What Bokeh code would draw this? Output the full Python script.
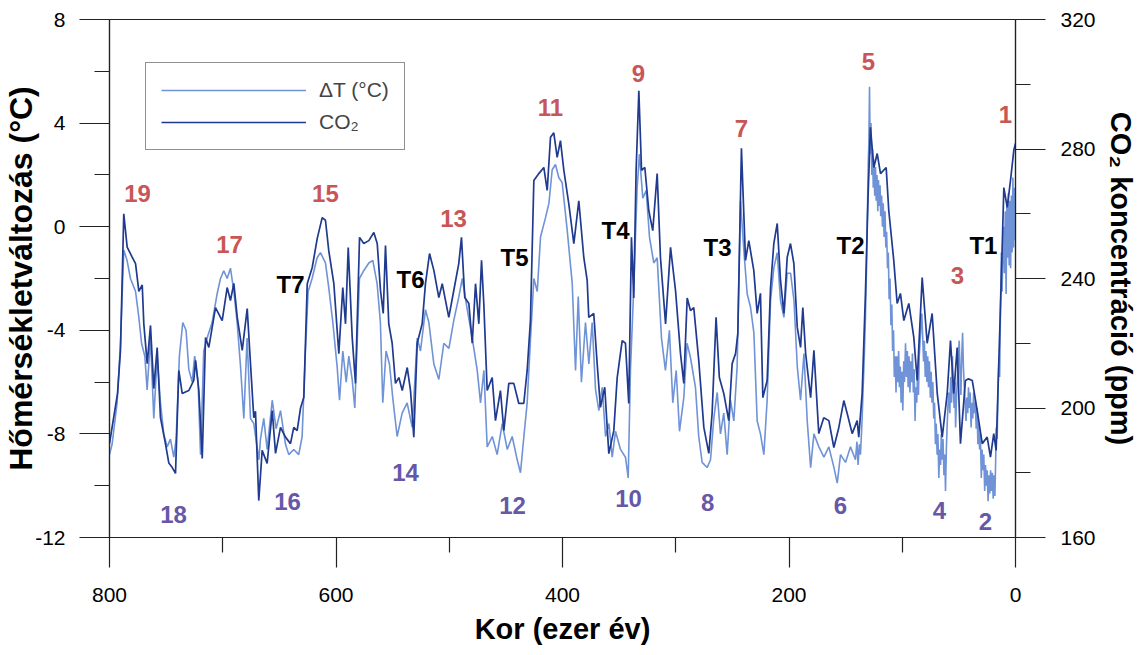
from bokeh.plotting import figure
from bokeh.models import Range1d, LinearAxis, FixedTicker, Legend, LegendItem, PrintfTickFormatter
from bokeh.embed import file_html
from bokeh.resources import INLINE
from bokeh.core.properties import value

# ---------------- data ----------------
# Temperature anomaly (deg C) vs age (kyr BP)
t_age = [800, 797.7, 793.3, 790.3, 787.4, 784.5, 781.5, 777, 774.1, 771.7, 768.8, 766.8, 763.8, 760.9,
         757.9, 755, 752.1, 749.1, 746.2, 743.2, 741.2, 738.3, 735.3, 732.4, 730, 727, 724.8, 721.8,
         719.6, 716.8, 713.8, 709.4, 705, 702, 699.1, 696.1, 693.2, 690.2, 687.3, 684.3, 681.4, 678.5,
         675.5, 672.6, 668.1, 666.7, 663.8, 660.8, 656.3, 652.9, 649, 644.6, 641.7, 637.3, 632.9, 629.9,
         627, 624.6, 621.1, 616.7, 613.7, 609.3, 606.4, 602.8, 599, 596.9, 594, 591, 588.7, 585.7, 583.4,
         579.3, 575.5, 571, 567.5, 563.7, 560.8, 558.7, 555.8, 552.8, 549.9, 546, 541.6, 537.2, 532.7,
         528.3, 525.4, 521, 518, 513.6, 509.2, 504.8, 500.3, 495.9, 491.5, 488.5, 484.1, 479.7, 475.3,
         472.4, 469.4, 466.5, 462, 457.7, 453.2, 448.8, 444.4, 440, 437.1, 434.1, 431.2, 428.2, 425.3,
         422.3, 419.4, 415, 412, 409.1, 406.2, 403.3, 400.3, 395.8, 391.4, 388.5, 386.1, 383.3, 379.7,
         376.7, 373.8, 370.8, 367.9, 364.9, 362, 359, 356.1, 353.2, 348.8, 344.4, 342, 340, 337.1, 334.1,
         332.1, 329.1, 326.1, 323.2, 319.4, 316.4, 312.6, 309.1, 305.6, 302.6, 299.6, 296.7, 292.9, 290,
         287, 282.6, 279.7, 276.7, 272.3, 269.3, 266.4, 263.4, 260.5, 257.6, 254.6, 251.7, 248.7, 245.8,
         242.8, 239.9, 236.9, 234, 231, 228.1, 225.2, 222.2, 219.3, 216.3, 213.4, 210.4, 207.5, 204.5,
         201.6, 198.6, 195.6, 192.7, 189.8, 186.8, 183.9, 180.9, 178, 173.6, 169.2, 164.8, 160.3, 157.4,
         154.5, 150.1, 145.7,
         141.3, 140, 139, 137.9, 136.9, 135.5, 134.5, 133.5, 132.5, 131.5, 131, 130, 129.5, 128.9, 128.3,
         127.6, 126.9, 126.2, 125.6, 125, 124.3, 123.6, 123, 122.3, 121.6, 121, 120.3, 119.6, 119, 118.2,
         117.5, 116.8, 116, 115.2, 114.5, 113.8, 113, 112.3, 111.6, 110.8, 110, 109.2, 108.5, 107.7, 107,
         106.2, 105.5, 104.8, 104, 103.2, 102.5, 101.7, 101, 100.2, 99.5, 98.7, 98, 97.1, 96.3, 95.5, 94.8,
         94, 93.2, 92.5, 91.7, 91, 90.2, 89.5, 88.7, 88, 87.2, 86.5, 85.7, 85, 84.2, 83.5, 82.7, 82, 81.2,
         80.5, 79.7, 79, 78.2, 77.5, 76.8, 76, 75.2, 74.5, 73.7, 73, 72.2, 71.5, 70.7, 70, 69.2, 68.5, 67.7,
         67, 66.2, 65.5, 64.7, 64, 63.2, 62.5, 61.8, 61, 60.3, 59.5, 58.8, 58, 57.2, 56.5, 55.7, 55, 54.2,
         53.5, 52.9, 52, 51.2, 50.5, 49.7, 49, 48.2, 47.5, 46.7, 46, 45.2, 44.5, 43.7, 43, 42.2, 41.5, 40.7,
         40, 39.2, 38.5, 37.7, 37, 36.2, 35.5, 34.7, 34, 33.2, 32.5, 31.7, 31, 30.2, 29.5, 28.7, 28, 27.2,
         26.5, 25.7, 25, 24.2, 23.5, 22.7, 22, 21.2, 20.5, 19.7, 19, 18.2, 17.5, 17, 16.2, 15.5, 14.7, 14,
         13.2, 12.5, 11.8, 11, 10.4, 9.8, 9, 8.3, 7.6, 7, 6.3, 5.6, 5, 4.3, 3.6, 3, 2.3, 1.6, 1, 0.4, 0]
t_val = [-8.8, -8.4, -6.8, -4.5, -0.9, -1.3, -2.0, -2.5, -3.5, -4.5, -5.0, -6.3, -4.3, -7.4,
         -5.0, -6.8, -8.0, -8.5, -8.2, -8.9, -8.2, -5.0, -3.7, -4.0, -5.5, -6.0, -5.0, -6.0,
         -8.8, -4.8, -4.3, -3.7, -2.6, -2.0, -1.7, -2.0, -1.6, -2.5, -3.7, -5.4, -7.4, -4.3,
         -7.4, -7.6, -9.0, -8.2, -7.4, -8.6, -6.7, -7.8, -7.1, -8.4, -8.8, -8.6, -8.8, -8.1,
         -4.8, -2.5, -2.0, -1.2, -1.0, -1.4, -2.35, -3.7, -5.4, -6.7, -4.8, -6.0, -5.0, -5.9, -7.0,
         -2.0, -1.7, -1.4, -1.3, -2.2, -3.7, -6.8, -4.8, -5.3, -6.6, -8.1, -7.2, -6.8, -7.75,
         -4.3, -4.8, -3.2, -3.7, -5.3, -5.9, -4.5, -4.7, -3.6, -2.7, -2.0, -3.2, -4.3, -5.55,
         -6.8, -5.55, -8.5, -8.1, -8.8, -7.6, -8.6, -8.1, -9.0, -9.5, -8.1, -6.8, -4.3, -2.0,
         -2.5, -0.4, 0.35, 0.9, 2.2, 2.4, 1.9, 1.7, -0.15, -2.2, -5.55, -2.7, -6.0, -3.7,
         -5.3, -3.7, -6.3, -7.1, -6.2, -8.1, -7.6, -8.9, -7.9, -8.6, -8.9, -9.7, -5.55, -2.35, 1.5,
         2.8, 1.1, 1.4, -0.4, -1.4, -1.2, -4.3, -5.55, -4.0, -6.8, -5.55, -7.9, -6.6, -4.5,
         -5.05, -6.2, -8.1, -9.1, -9.3, -9.0, -7.4, -6.4, -8.0, -7.2, -8.8, -6.7, -7.5, -5.4,
         1.0, -0.9, -2.6, -3.1, -4.1, -7.5, -8.0, -8.8, -6.7, -2.85, -1.6, -1.0, -2.85, -3.5,
         -1.8, -1.8, -2.85, -5.4, -6.7, -4.9, -7.5, -9.3, -8.0, -8.5, -8.9, -8.5, -9.3, -9.9,
         -8.8, -9.1, -8.5,
         -9.0, -8.3, -9.2, -8.4, -8.8, -7.5, -6.2, -5.0, -3.5, -1.5, 0.0, 2.5, 3.2, 5.4, 2.8,
         4.0, 2.0, 3.0, 1.5, 2.6, 1.2, 2.3, 1.0, 2.0, 0.6, 1.8, 0.8, 1.6, 0.4, 1.2,
         0.0, 0.9, -0.4, 0.6, -0.8, -0.2, -1.6, -1.0, -2.8, -2.0, -3.8, -3.0, -4.8, -4.0, -5.8,
         -5.0, -6.4, -5.0, -6.0, -4.8, -6.2, -5.4, -6.8, -5.6, -7.1, -5.2, -6.0, -4.5, -5.8, -4.8, -6.2,
         -5.0, -6.4, -5.2, -6.0, -4.9, -6.4, -5.5, -7.5, -6.2, -6.8, -5.6, -6.5, -5.0, -4.4, -3.8, -3.35, -4.2, -5.2,
         -4.4, -5.8, -4.8, -6.0, -5.0, -6.2, -5.2, -6.6, -5.6, -6.8, -6.0, -7.4, -6.8, -8.4, -7.6, -8.8, -8.0, -9.7,
         -8.6, -9.2, -8.0, -9.0, -8.2, -9.6, -8.8, -10.2, -8.5, -7.6, -6.8, -6.4, -7.2, -5.8, -6.8, -5.0, -6.2, -7.0,
         -6.0, -7.75, -6.5, -5.8, -5.0, -4.4, -5.6, -6.5, -5.0, -4.1, -5.4, -6.2, -6.8, -7.5, -6.6, -7.2, -6.2, -7.0,
         -6.4, -7.75, -6.8, -7.4, -6.4, -7.2, -6.8, -7.8, -7.0, -8.4, -7.6, -8.6, -8.0, -9.7, -8.6, -9.4, -8.8, -10.2,
         -9.2, -10.0, -9.4, -10.6, -9.6, -10.3, -9.4, -10.2, -9.5, -10.5, -9.6, -10.4, -9.0, -7.75, -8.2, -6.5, -5.2, -5.8,
         -3.0, -1.0, -2.5, -0.6, 0.0, -1.8, 0.6, -2.6, 0.8, -1.2, 1.3, -1.5, 1.0, -1.6, 1.2, -1.0, 1.9, -0.8, 1.5, -0.5, 0.2]

# CO2 concentration (ppm) vs age (kyr BP)
co2_age = [800, 792.9, 790.3, 787.4, 784.4, 780, 777, 774.1, 771.1, 769.7, 766.7, 763.8, 760.9, 757.9,
           755, 750.6, 747.6, 744.6, 741.7, 738.8, 735.8, 730, 725.6, 724, 721.1, 718.1, 715.2, 712.3,
           706.4, 700.5, 696.1, 693.2, 690.2, 687.2, 682.8, 678.4, 675.5, 672.6, 671.1, 668.2, 665.2,
           660.8, 656.3, 653.4, 649, 644.6, 640.2, 637.3, 634.3, 631.3, 628.4, 625.4, 621, 616.6, 612.2,
           609.3, 606.4, 601.9, 597.5, 594, 591.6, 589.2, 585.7, 582.8, 579.2, 575.5, 571, 566.6, 563.6,
           560.7, 558.3, 556.3, 553.4, 550.4, 547.5, 544.5, 541.5, 537.1, 534.2, 531.3, 528.3, 523.9,
           521, 517.4, 513.6, 509.2, 506.2, 500.4, 496, 491.6, 489.2, 486.3, 482.7, 479.7, 476.8, 473.9,
           471.5, 469.5, 466.5, 462.1, 459.2, 454.8, 451.8, 447.4, 443, 438.6, 434.2, 431.2, 428.3,
           425.3, 420.9, 416.5, 413.5, 410.6, 407.7, 404.7, 401.8, 398.8, 394.4, 390, 385.6, 381.2,
           378.2, 376.8, 372.4, 369.4, 366.5, 362.7, 359.1, 354.7, 351.7, 347.3, 344.4, 341.5, 339.1,
           337.1, 335, 332.6, 330.2, 327.3, 323.8, 320.3, 316.4, 313.5, 309, 304.6, 300.2, 295.8, 292.9,
           289.9, 287, 284.1, 279.7, 275.2, 270.8, 267.9, 264.4, 261.5, 257.6, 253.2, 250.2, 247.2,
           245.2, 242, 238.4, 235.5, 231.1, 228.1, 225.2, 223.1, 219.3, 216.3, 213.4, 210.4, 207.5,
           204.5, 201.6, 198.7, 195.7, 192.7, 189.8, 187.8, 185.3, 180.9, 178, 173.7, 169.3, 164.8,
           160.4, 156, 151.6, 148.6, 144.2, 139.8, 138.4, 135.4, 132.5, 130.1, 128.1, 125.1, 122.1,
           119.2, 114.2, 111.9, 107.5, 104.5, 101.6, 98.6, 94.2, 89.8, 86.8, 82.4, 78, 73.6, 69.1, 64.7,
           60.3, 57.4, 54.5, 51.5, 48.6, 44.2, 41.5, 38.2, 33.8, 29.4, 25, 22.1, 19.2, 17.1, 14.7, 12.4,
           10.3, 7.3, 4.4, 1.5, 0]
co2_val = [189, 204.5, 217.8, 260, 249.7, 246.6, 244.6, 236, 238, 226, 213.7, 225.5, 206, 218.7,
           197, 189, 183, 181.6, 179.8, 211.6, 204.5, 205.4, 208.5, 214.7, 205.4, 184.4, 221.8, 218.7,
           231, 227, 237.2, 233.2, 238.5, 228, 217.8, 230.7, 213.7, 197, 199, 171.4, 186.9,
           182.9, 199.2, 186, 194, 191, 189, 194, 193, 200, 203.3, 238.4, 243.4, 252.3, 258.8,
           258, 248.6, 238.4, 216.8, 237.2, 226, 249.6, 221.8, 207.6, 252.7, 250.8, 251.7, 254.2, 250.8,
           236.3, 229.2, 250.2, 226, 220, 207.6, 209.4, 205.4, 212.5, 205.4, 191, 220, 226,
           238.4, 247.7, 242.5, 234.1, 238.4, 228, 236.3, 244.6, 252.7, 234.1, 232.3, 220, 238.4, 226,
           245.6, 232.3, 205.4, 209.4, 196.1, 205.4, 193, 207.6, 207.6, 201.4, 201.4, 211.6, 227,
           270.3, 272.4, 274.3, 267.2, 283.6, 285, 277.4, 282.6, 273.4, 263, 250.8, 264, 246.5,
           239.4, 228, 229.2, 213.7, 200.2, 206.4, 185.9, 193, 209.4, 220.8, 220, 201.4, 252.7,
           234, 273.4, 298, 273.4, 274.3, 261, 254.8, 272.4, 246.5, 226, 249.6, 236.3, 216.8, 207.6,
           234, 230.1, 231, 214.7, 194, 186, 198.3, 228, 209.4, 204.5, 196.1, 213.7, 216.8,
           223, 280.2, 245.6, 251.7, 242.5, 229.2, 235.4, 203.2, 208.5, 237.2, 250.8, 257, 239.4,
           229.2, 246.5, 250.8, 244.6, 224.9, 218.7, 231, 216.8, 203.2, 217.8, 192.1, 197, 196.1,
           187.8, 194, 202.3, 198.3, 192.1, 196.1, 191, 204.5, 235.4, 266.3, 286.7, 274.3, 278.6,
           272.4, 274.3, 261, 245.6, 232.3, 235.4, 227, 232.3, 221.8, 208.5, 240.3, 220, 229.2, 204.5, 191,
           204.5, 220.8, 204.5, 218.7, 189, 208.5, 209, 208.5, 199.2, 189, 191, 184.8, 192.1, 186.9, 214.7, 241.5,
           268.1, 262, 270.3, 279.6, 281.7]

# Marine isotope stage labels and terminations
warm_labels = ["19", "17", "15", "13", "11", "9", "7", "5", "3", "1"]
warm_age = [775.3, 694, 609.3, 496.2, 410.6, 332.9, 242, 129.8, 51.2, 8.8]
warm_t = [1.28, -0.69, 1.28, 0.32, 4.6, 5.92, 3.79, 6.38, -1.88, 4.33]

cold_labels = ["18", "16", "14", "12", "10", "8", "6", "4", "2"]
cold_age = [743.5, 642.8, 538.6, 444.1, 341.7, 271.9, 154.5, 67.1, 26.5]
cold_t = [-11.11, -10.61, -9.49, -10.76, -10.49, -10.65, -10.76, -10.96, -11.38]

term_labels = ["T7", "T6", "T5", "T4", "T3", "T2", "T1"]
term_age = [640.2, 534.2, 442.4, 353.2, 263.1, 145.7, 28.3]
term_t = [-2.23, -2.04, -1.19, -0.15, -0.8, -0.73, -0.73]

x_ticks = [0, 200, 400, 600, 800]
x_minor = [100, 300, 500, 700]
t_ticks = [-12, -8, -4, 0, 4, 8]
t_minor = [-10, -6, -2, 2, 6]
c_ticks = [160, 200, 240, 280, 320]
c_minor = [180, 220, 260, 300]

# ---------------- styling ----------------
LIGHT = "#6f93d6"
DARK = "#1f3a8f"
RED = "#c95656"
PURPLE = "#6657a8"
FONT = "Liberation Sans"

p = figure(width=1143, height=655, output_backend="svg", toolbar_location=None,
           x_range=Range1d(800, 0), y_range=Range1d(-12, 8),
           min_border_left=109, min_border_right=128, min_border_top=19, min_border_bottom=118)
p.extra_y_ranges = {"co2": Range1d(160, 320)}
p.grid.visible = False
p.outline_line_color = "#222222"
p.outline_line_width = 1.2
p.background_fill_color = "white"
p.border_fill_color = "white"


def style_axis(ax, ticks, minor, title_size):
    ax.ticker = FixedTicker(ticks=ticks, minor_ticks=minor)
    ax.formatter = PrintfTickFormatter(format="%d")
    ax.major_tick_in = 0
    ax.major_tick_out = 30
    ax.minor_tick_in = 0
    ax.minor_tick_out = 15
    ax.major_tick_line_color = "#222222"
    ax.minor_tick_line_color = "#222222"
    ax.major_tick_line_width = 1.2
    ax.minor_tick_line_width = 1.2
    ax.axis_line_color = "#222222"
    ax.axis_line_width = 1.2
    ax.major_label_text_font = FONT
    ax.major_label_text_font_size = "21px"
    ax.major_label_text_color = "black"
    ax.axis_label_text_font = FONT
    ax.axis_label_text_font_size = title_size
    ax.axis_label_text_font_style = "bold"
    ax.axis_label_text_color = "black"


xa = p.xaxis[0]
style_axis(xa, x_ticks, x_minor, "29px")
xa.axis_label = "Kor (ezer év)"
xa.major_label_standoff = 20
xa.axis_label_standoff = 8

ya = p.yaxis[0]
style_axis(ya, t_ticks, t_minor, "32px")
ya.axis_label = "Hőmérsékletváltozás (°C)"
ya.major_label_standoff = 14
ya.axis_label_standoff = -7

ra = LinearAxis(y_range_name="co2")
style_axis(ra, c_ticks, c_minor, "29px")
ra.axis_label = "CO₂ koncentráció (ppm)"
ra.major_label_standoff = 15
ra.axis_label_standoff = 6
p.add_layout(ra, "right")

r1 = p.line(t_age, t_val, line_color=LIGHT, line_width=1.6)
r2 = p.line(co2_age, co2_val, line_color=DARK, line_width=1.7, y_range_name="co2")

txt = dict(text_font=value(FONT), text_font_size="24px", text_font_style="bold",
           text_align="center", text_baseline="middle")
p.text(warm_age, warm_t, text=warm_labels, text_color=RED, **txt)
p.text(cold_age, cold_t, text=cold_labels, text_color=PURPLE, **txt)
p.text(term_age, term_t, text=term_labels, text_color="black", **txt)

legend = Legend(items=[LegendItem(label="ΔT (°C)", renderers=[r1]),
                       LegendItem(label="CO₂", renderers=[r2])],
                location=(36, 387))
legend.border_line_color = "#222222"
legend.border_line_width = 1.2
legend.background_fill_color = "white"
legend.background_fill_alpha = 1
legend.label_text_font = FONT
legend.label_text_font_size = "21px"
legend.glyph_width = 145
legend.glyph_height = 24
legend.label_height = 24
legend.spacing = 8
legend.padding = 15
legend.label_standoff = 13
legend.margin = 0
p.add_layout(legend)

open("out.html", "w").write(file_html(p, INLINE))
